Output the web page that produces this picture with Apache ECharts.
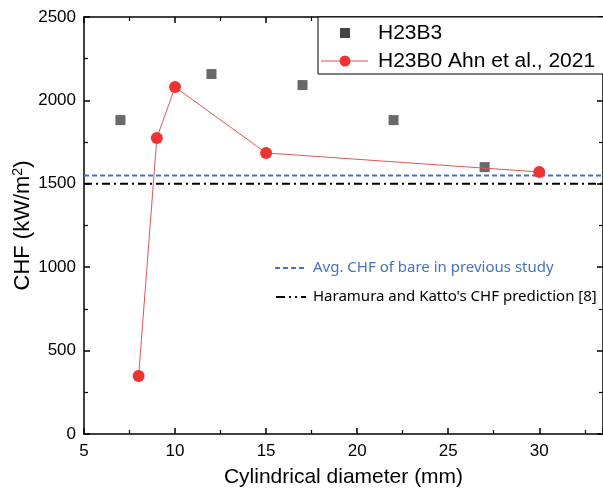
<!DOCTYPE html>
<html><head><meta charset="utf-8">
<script src="https://cdn.jsdelivr.net/npm/echarts@6/dist/echarts.min.js"></script>
<style>html,body{margin:0;padding:0;background:#fff}#c{width:603px;height:495px}</style>
</head><body><div id="c"></div>
<script>
const b3X = [7, 12, 17, 22, 27];
const b3Y = [1882, 2158, 2092, 1882, 1600];
const b0X = [8, 9, 10, 15, 30];
const b0Y = [348, 1775, 2080, 1685, 1571];
const lineX = [5, 33.5];
const avgBare = 1550;
const katto = 1500;
const names = ['H23B3', 'H23B0 Ahn et al., 2021', 'Avg. CHF of bare in previous study', "Haramura and Katto's CHF prediction [8]"];

const F = 'Liberation Sans, Arial, sans-serif';
const chart = echarts.init(document.getElementById('c'));
const axisBase = {
  axisLine: {show: true, onZero: false, lineStyle: {color: '#000', width: 1.5}},
  axisTick: {show: true, inside: true, length: 6, lineStyle: {color: '#000', width: 1.5}},
  minorTick: {show: true, splitNumber: 2, length: 4, lineStyle: {color: '#000', width: 1.2}},
  splitLine: {show: false}
};
chart.setOption({
  animation: false,
  grid: {left: 84, right: 0, top: 17, bottom: 61, containLabel: false, outerBoundsMode: 'none'},
  xAxis: [
    Object.assign({type: 'value', min: 5, max: 33.5, interval: 5, position: 'bottom',
      name: 'Cylindrical diameter (mm)', nameLocation: 'middle', nameGap: 33, nameMoveOverlap: false,
      nameTextStyle: {fontFamily: F, fontSize: 21, color: '#000'},
      axisLabel: {fontFamily: F, fontSize: 17, color: '#000', margin: 9, showMaxLabel: false, formatter: v => String(v)}}, axisBase),
    Object.assign({type: 'value', min: 5, max: 33.5, interval: 5, position: 'top', axisLabel: {show: false}}, axisBase)
  ],
  yAxis: [
    Object.assign({type: 'value', min: 0, max: 2500, interval: 500, position: 'left',
      name: 'CHF (kW/m{sup|2})', nameLocation: 'middle', nameGap: 49, nameMoveOverlap: false,
      nameTextStyle: {fontFamily: F, fontSize: 22, color: '#000',
        rich: {sup: {fontFamily: F, fontSize: 14, color: '#000', padding: [0, 0, 10, 0]}}},
      axisLabel: {fontFamily: F, fontSize: 17, color: '#000', margin: 8, formatter: v => String(v)}}, axisBase),
    Object.assign({type: 'value', min: 0, max: 2500, interval: 500, position: 'right', axisLabel: {show: false}}, axisBase)
  ],
  series: [
    {name: names[2], type: 'line', data: lineX.map(x => [x, avgBare]), symbol: 'none',
      lineStyle: {color: '#4472C4', width: 2, type: [5, 3]}, z: 2},
    {name: names[3], type: 'line', data: lineX.map(x => [x, katto]), symbol: 'none',
      lineStyle: {color: '#000', width: 2, type: [8, 4, 2, 4]}, z: 2},
    {name: names[0], type: 'scatter', data: b3X.map((x, i) => [x, b3Y[i]]), symbol: 'rect', symbolSize: 10,
      itemStyle: {color: '#444'}, z: 3},
    {name: names[1], type: 'line', data: b0X.map((x, i) => [x, b0Y[i]]), symbol: 'circle', symbolSize: 12,
      showAllSymbol: true, lineStyle: {color: '#e05555', width: 1}, itemStyle: {color: '#ee3333', borderWidth: 0}, z: 4}
  ],
  graphic: [
    {type: 'rect', shape: {x: 318, y: 17, width: 320, height: 57}, style: {fill: '#fff', stroke: '#000', lineWidth: 1}, z: 10},
    {type: 'rect', shape: {x: 340, y: 28, width: 10, height: 10}, style: {fill: '#444'}, z: 11},
    {type: 'text', x: 378, y: 33, style: {text: names[0], font: '21px ' + F, fill: '#000', textVerticalAlign: 'middle'}, z: 11},
    {type: 'line', shape: {x1: 321, y1: 61, x2: 368, y2: 61}, style: {stroke: '#e05555', lineWidth: 1}, z: 11},
    {type: 'circle', shape: {cx: 345, cy: 61, r: 5.5}, style: {fill: '#ee3333'}, z: 11},
    {type: 'text', x: 378, y: 61, style: {text: names[1], font: '21px ' + F, fill: '#000', textVerticalAlign: 'middle'}, z: 11},
    {type: 'line', shape: {x1: 275, y1: 268, x2: 306, y2: 268}, style: {stroke: '#4472C4', lineWidth: 2, lineDash: [5, 3]}, z: 11},
    {type: 'text', x: 313, y: 268, style: {text: names[2], font: '15px Noto Sans, sans-serif', fill: '#4472C4', textVerticalAlign: 'middle'}, z: 11},
    {type: 'line', shape: {x1: 276, y1: 297, x2: 306, y2: 297}, style: {stroke: '#000', lineWidth: 2, lineDash: [9, 4, 2, 4, 2, 4]}, z: 11},
    {type: 'text', x: 313, y: 297, style: {text: names[3], font: '15px Noto Sans, sans-serif', fill: '#000', textVerticalAlign: 'middle'}, z: 11}
  ]
});
</script></body></html>
